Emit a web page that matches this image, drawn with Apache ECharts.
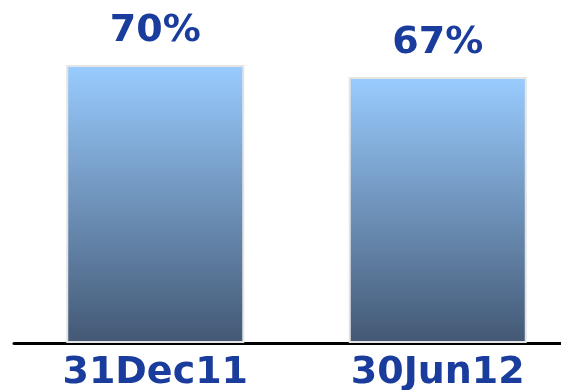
<!DOCTYPE html>
<html>
<head>
<meta charset="utf-8">
<script src="https://cdn.jsdelivr.net/npm/echarts@6/dist/echarts.min.js"></script>
<style>
  html, body { margin: 0; padding: 0; background: #fff; }
  #chart { width: 561px; height: 390px; }
</style>
</head>
<body>
<div id="chart"></div>
<script>
// data
var categories = ["31Dec11", "30Jun12"];
var values = [70, 67];

var myChart = echarts.init(document.getElementById("chart"));
var option = {
  animation: false,
  grid: {
    left: 14,
    top: 65,
    width: 565,
    bottom: 47,
    outerBoundsMode: "none",
    containLabel: false,
  },
  xAxis: {
    type: "category",
    data: categories,
    axisLine: {
      show: true,
      lineStyle: { color: "#000", width: 3 },
    },
    axisTick: { show: false },
    axisLabel: {
      color: "#1a3c9c",
      fontFamily: "DejaVu Sans",
      fontWeight: "bold",
      fontSize: 38,
      margin: 11,
    },
  },
  yAxis: {
    type: "value",
    min: 0,
    max: 70,
    show: false,
  },
  series: [
    {
      type: "bar",
      data: values,
      barWidth: 178,
      itemStyle: {
        color: new echarts.graphic.LinearGradient(0, 0, 0, 1, [
          { offset: 0, color: "#99ccff" },
          { offset: 1, color: "#435874" },
        ]),
        borderColor: "#e4e4e4",
        borderWidth: 2,
      },
      label: {
        show: true,
        position: "top",
        distance: 15,
        formatter: "{c}%",
        color: "#1a3c9c",
        fontFamily: "DejaVu Sans",
        fontWeight: "bold",
        fontSize: 38,
      },
    },
  ],
};
myChart.setOption(option);
</script>
</body>
</html>
